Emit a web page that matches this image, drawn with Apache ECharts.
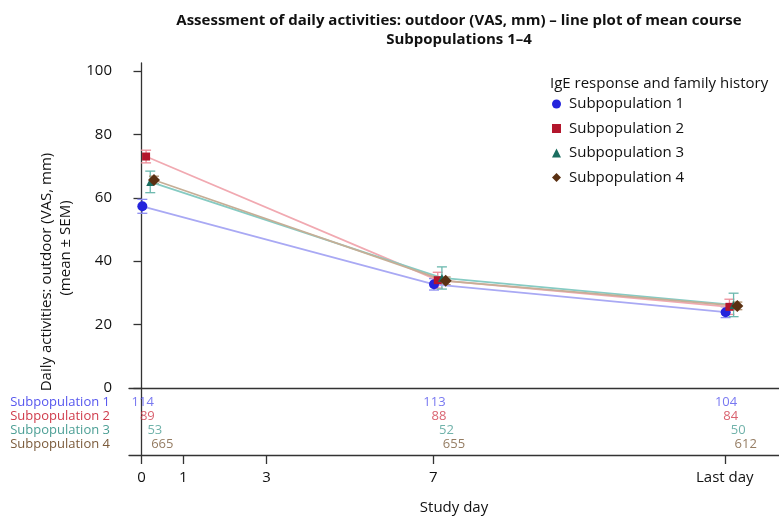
<!DOCTYPE html>
<html><head><meta charset="utf-8">
<script src="https://cdn.jsdelivr.net/npm/echarts@6/dist/echarts.min.js"></script>
<style>html,body{margin:0;padding:0;background:#fff}#c{width:779px;height:519px}</style>
</head><body><div id="c"></div>
<script>
// ---- data ----
const seriesNames = ['Subpopulation 1','Subpopulation 2','Subpopulation 3','Subpopulation 4'];
const dayValues = [0, 7, 14];           // 14 = "Last day" position
const tickValues = [0, 1, 3, 7, 14];
const tickLabels = ['0','1','3','7','Last day'];
const yTickValues = [0, 20, 40, 60, 80, 100];
const mean1 = [57.3, 32.7, 23.9];
const mean2 = [73.0, 34.0, 25.6];
const mean3 = [65.0, 34.7, 26.2];
const mean4 = [65.6, 33.8, 25.9];
const sem1 = [2.2, 1.8, 1.7];
const sem2 = [2.0, 2.5, 2.4];
const sem3 = [3.4, 3.5, 3.7];
const sem4 = [1.2, 1.2, 1.2];
const n1 = [114, 113, 104];
const n2 = [89, 88, 84];
const n3 = [53, 52, 50];
const n4 = [665, 655, 612];

const means = [mean1, mean2, mean3, mean4];
const sems = [sem1, sem2, sem3, sem4];
const counts = [n1, n2, n3, n4];

// ---- styles ----
const FONT = '"Open Sans", "Noto Sans", sans-serif';
const markerColors = ['#2424dc', '#b3162c', '#1b6e60', '#5a3012'];
const lineColors = ['#a9a9f4', '#f1a9b1', '#86cbc3', '#c6ae96'];
const errColors = ['#8c8cf0', '#ec8c98', '#6ab8ae', '#b0906e'];
const tableColors = ['#5656ee', '#cf3b4b', '#4c9f95', '#7b5b3b'];
const symbols = ['circle', 'rect', 'triangle', 'diamond'];
const symbolSizes = [10, 8, 8, 12];
const markerOffset = [0.02, 0.11, 0.21, 0.30];
const countOffset = [0.03, 0.14, 0.32, 0.50];

const chart = echarts.init(document.getElementById('c'), null, {renderer: 'canvas'});

const series = [];
means.forEach((m, i) => {
  series.push({
    name: seriesNames[i], type: 'line', xAxisIndex: 0, yAxisIndex: 0,
    data: m.map((v, k) => [dayValues[k] + markerOffset[i], v]),
    symbol: symbols[i], symbolSize: symbolSizes[i],
    itemStyle: {color: markerColors[i]},
    lineStyle: {color: lineColors[i], width: 1.8},
    z: 3, animation: false
  });
  series.push({
    name: seriesNames[i] + ' SEM', type: 'custom', xAxisIndex: 0, yAxisIndex: 0,
    data: m.map((v, k) => [dayValues[k] + markerOffset[i], v - sems[i][k], v + sems[i][k]]),
    renderItem: function (params, api) {
      const lo = api.coord([api.value(0), api.value(1)]);
      const hi = api.coord([api.value(0), api.value(2)]);
      const w = 5;
      const st = {stroke: errColors[i], lineWidth: 1.3};
      return {type: 'group', children: [
        {type: 'line', shape: {x1: lo[0], y1: lo[1], x2: hi[0], y2: hi[1]}, style: st},
        {type: 'line', shape: {x1: lo[0]-w, y1: lo[1], x2: lo[0]+w, y2: lo[1]}, style: st},
        {type: 'line', shape: {x1: hi[0]-w, y1: hi[1], x2: hi[0]+w, y2: hi[1]}, style: st}
      ]};
    },
    z: 2, animation: false
  });
  series.push({
    name: seriesNames[i] + ' N', type: 'scatter', xAxisIndex: 1, yAxisIndex: 1,
    data: counts[i].map((c, k) => [dayValues[k] + countOffset[i], i, c]),
    symbolSize: 2, itemStyle: {color: 'rgba(0,0,0,0)'},
    label: {show: true, position: 'inside', formatter: p => String(p.value[2]),
      color: tableColors[i], fontSize: 13, fontFamily: FONT},
    silent: true, animation: false, z: 5
  });
});

const rowRich = {};
tableColors.forEach((c, i) => { rowRich['s' + i] = {color: c, fontSize: 13, fontFamily: FONT}; });

chart.setOption({
  backgroundColor: '#fff',
  animation: false,
  textStyle: {fontFamily: FONT},
  title: [
    {text: 'Assessment of daily activities: outdoor (VAS, mm) – line plot of mean course\nSubpopulations 1–4',
     left: 454, top: 6, textAlign: 'center',
     textStyle: {fontSize: 15, fontWeight: 'bold', color: '#111', lineHeight: 19, fontFamily: FONT}},
    {text: 'IgE response and family history', left: 545, top: 71,
     textStyle: {fontSize: 15, fontWeight: 'normal', color: '#111', fontFamily: FONT}}
  ],
  legend: {
    orient: 'vertical', left: 547, top: 89, itemWidth: 9, itemHeight: 9, itemGap: 4.5,
    textStyle: {fontSize: 15, color: '#111', fontFamily: FONT, lineHeight: 20, padding: [0, 0, 0, 3]},
    data: seriesNames.map((n, i) => ({name: n, icon: symbols[i], itemStyle: {color: markerColors[i]}}))
  },
  grid: [
    {left: 129, right: 0, top: 63, height: 325},
    {left: 129, right: 0, top: 388, height: 67}
  ],
  xAxis: [
    {type: 'value', gridIndex: 0, min: -0.3, max: 15.3,
     axisLine: {show: true, onZero: false, lineStyle: {color: '#333', width: 1.3}},
     axisTick: {show: false}, axisLabel: {show: false}, splitLine: {show: false}},
    {type: 'value', gridIndex: 1, min: -0.3, max: 15.3,
     axisLine: {show: true, onZero: false, lineStyle: {color: '#333', width: 1.3}},
     axisTick: {show: true, customValues: tickValues, length: 9, lineStyle: {color: '#333', width: 1.3}},
     axisLabel: {show: true, customValues: tickValues, margin: 15, fontSize: 15, color: '#111', fontFamily: FONT,
       formatter: v => tickLabels[tickValues.indexOf(v)]},
     splitLine: {show: false},
     name: 'Study day', nameLocation: 'middle', nameGap: 45,
     nameTextStyle: {fontSize: 15, color: '#111', fontFamily: FONT}}
  ],
  yAxis: [
    {type: 'value', gridIndex: 0, min: 0, max: 102.5,
     axisLine: {show: true, lineStyle: {color: '#333', width: 1.3}},
     axisTick: {show: true, customValues: yTickValues, length: 8, lineStyle: {color: '#333', width: 1.3}},
     axisLabel: {customValues: yTickValues, fontSize: 15, color: '#111', margin: 17, fontFamily: FONT},
     splitLine: {show: false}},
    {type: 'value', gridIndex: 1, min: -1, max: 3.8, inverse: true,
     axisLine: {show: true, lineStyle: {color: '#333', width: 1.3}},
     axisTick: {show: false},
     axisLabel: {show: true, customValues: [0, 1, 2, 3], margin: 19,
       formatter: v => '{s' + v + '|' + seriesNames[v] + '}', rich: rowRich},
     splitLine: {show: false}}
  ],
  graphic: [
    {type: 'text', rotation: Math.PI / 2, x: 47, y: 272,
     style: {text: 'Daily activities: outdoor (VAS, mm)', fill: '#111', font: '15px ' + FONT,
       textAlign: 'center', textVerticalAlign: 'middle'}},
    {type: 'text', rotation: Math.PI / 2, x: 66, y: 248,
     style: {text: '(mean ± SEM)', fill: '#111', font: '15px ' + FONT,
       textAlign: 'center', textVerticalAlign: 'middle'}}
  ],
  series: series
});
</script></body></html>
